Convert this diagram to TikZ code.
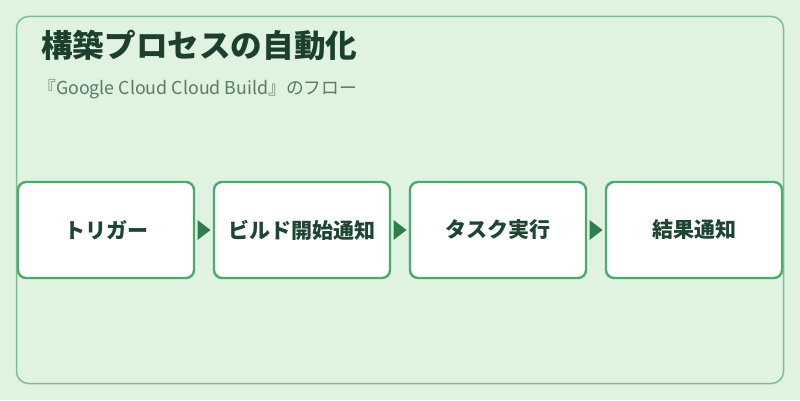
\documentclass[tikz,border=0pt]{standalone}
\usepackage{fontspec}
\setmainfont{Noto Sans CJK JP}
\definecolor{bgc}{HTML}{E0F2E0}
\definecolor{framec}{HTML}{7DBF92}
\definecolor{boxc}{HTML}{4DAA6E}
\definecolor{arrc}{HTML}{2E7D4F}
\definecolor{titlec}{HTML}{1D3F2E}
\definecolor{subc}{HTML}{5A7A68}
\definecolor{textc}{HTML}{1E4433}
\begin{document}
\begin{tikzpicture}[x=1pt,y=1pt,
  stepbox/.style={draw=boxc, line width=2.4pt, fill=white, rounded corners=8pt,
    minimum width=176pt, minimum height=96pt, inner sep=0pt,
    font=\bfseries\fontsize{21}{24}\selectfont, text=textc},
  tri/.style={fill=arrc, draw=none}]
\useasboundingbox (0,0) rectangle (800,400);
\fill[bgc] (0,0) rectangle (800,400);
\draw[framec, line width=1.5pt, rounded corners=12pt] (16.5,16.5) rectangle (783.5,383.5);
\node[anchor=base west, inner sep=0pt, font=\bfseries\fontsize{31.6}{34}\selectfont, text=titlec] (title) at (41,342) {構築プロセスの自動化};
\node[anchor=base west, inner sep=0pt, font=\fontsize{17.8}{20}\selectfont, text=subc] (sub) at (38,306) {『Google Cloud Cloud Build』のフロー};
\node[stepbox] (b1) at (106,170) {トリガー};
\node[stepbox] (b2) at (302,170) {ビルド開始通知};
\node[stepbox] (b3) at (498,170) {タスク実行};
\node[stepbox] (b4) at (694,170) {結果通知};
\foreach \a/\b in {b1/b2,b2/b3,b3/b4}{
  \path (\a.east) -- (\b.west) coordinate[pos=0.5] (m\a);
  \fill[tri] ([xshift=-6.5pt,yshift=10pt]m\a) -- ([xshift=6.5pt]m\a) -- ([xshift=-6.5pt,yshift=-10pt]m\a) -- cycle;
}
\end{tikzpicture}
\end{document}
